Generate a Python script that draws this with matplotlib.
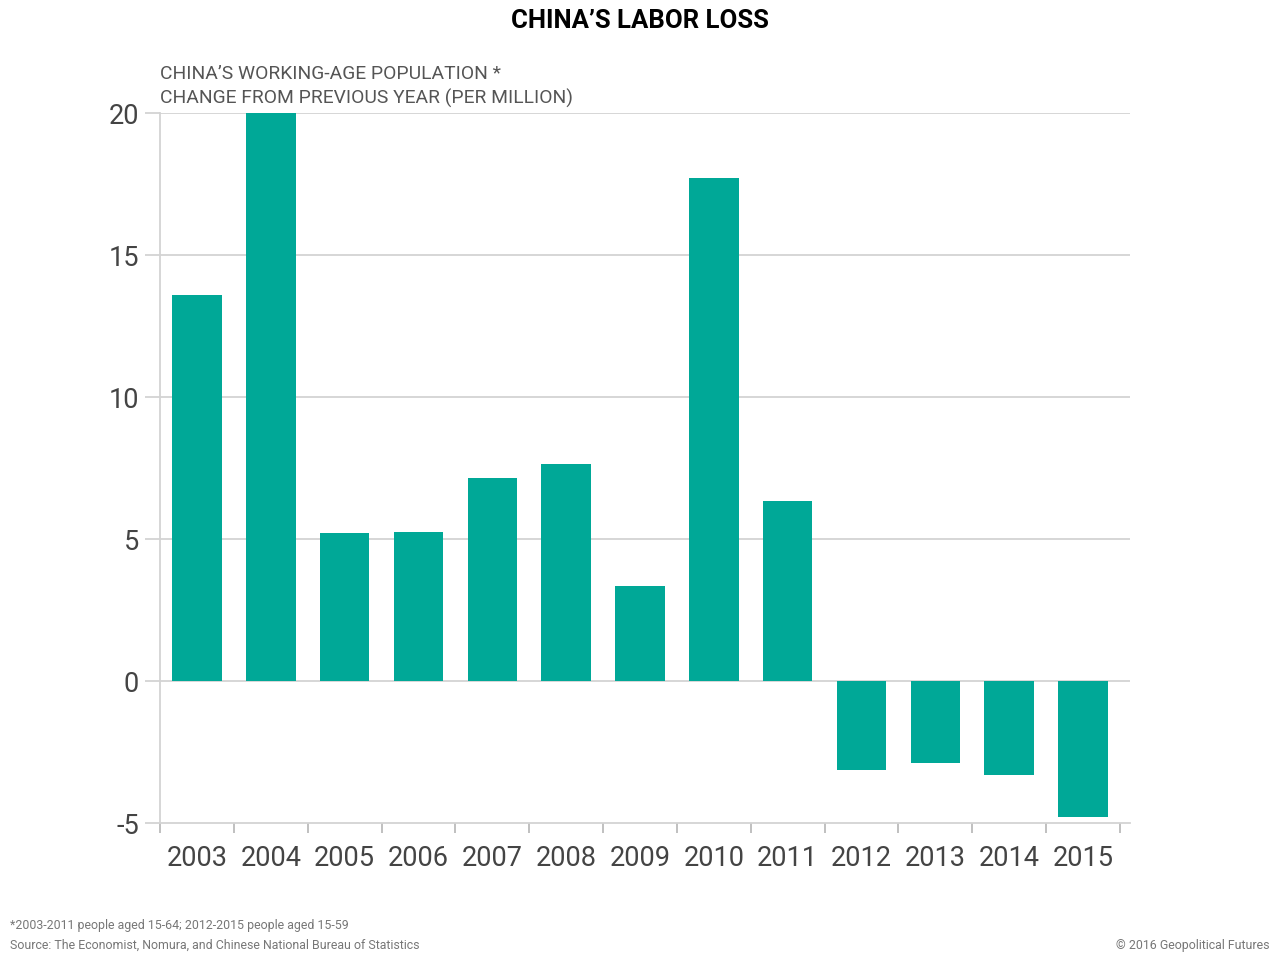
import matplotlib.pyplot as plt

# data
years = ["2003", "2004", "2005", "2006", "2007", "2008", "2009",
         "2010", "2011", "2012", "2013", "2014", "2015"]
change_mn = [13.6, 20.0, 5.2, 5.25, 7.15, 7.65, 3.35,
             17.7, 6.35, -3.15, -2.9, -3.3, -4.8]
y_ticks = [-5, 0, 5, 10, 15, 20]

BAR = "#00a897"
GRID = "#d3d3d3"
TXT = "#444444"

plt.rcParams["font.family"] = ["Roboto", "DejaVu Sans"]

fig = plt.figure(figsize=(12.8, 9.6), dpi=100)
ax = fig.add_axes([160 / 1280, 1 - 823 / 960, (1130 - 160) / 1280, (823 - 113) / 960])

x = list(range(len(years)))
ax.bar(x, change_mn, width=0.67, color=BAR, zorder=3)

# categories span -0.5..12.5, a little extra on the right for the grid
ax.set_xlim(-0.5, 12.5 + 10 / 73.85)
ax.set_ylim(-5, 20)

for y in y_ticks[1:]:
    ax.axhline(y, color=GRID, lw=1.3, zorder=1)

for s in ["top", "right"]:
    ax.spines[s].set_visible(False)
ax.spines["left"].set_color(GRID)
ax.spines["left"].set_linewidth(1.3)
ax.spines["bottom"].set_color(GRID)
ax.spines["bottom"].set_linewidth(1.3)

ax.set_yticks(y_ticks)
ax.set_yticklabels([str(v) for v in y_ticks])
ax.tick_params(axis="y", length=11, width=1.3, color=GRID, labelsize=19.5,
               labelcolor=TXT, pad=4)

# x ticks as boundaries between categories, labels at the centres
ax.set_xticks([i - 0.5 for i in range(len(years) + 1)])
ax.set_xticklabels([])
ax.set_xticks(x, minor=True)
ax.set_xticklabels(years, minor=True)
ax.tick_params(axis="x", which="major", length=7, width=1.3, color="#bbbbbb")
ax.tick_params(axis="x", which="minor", length=0, labelsize=19.5,
               labelcolor=TXT, pad=16)

fig.text(0.5, 1 - 21 / 960, "CHINA\u2019S LABOR LOSS", ha="center", va="center",
         fontsize=18.5, fontweight="bold", color="black")
fig.text(160 / 1280, 1 - 74 / 960, "CHINA\u2019S WORKING-AGE POPULATION *",
         ha="left", va="center", fontsize=13.9, color="#555555")
fig.text(160 / 1280, 1 - 98 / 960, "CHANGE FROM PREVIOUS YEAR (PER MILLION)",
         ha="left", va="center", fontsize=13.9, color="#555555")

fig.text(10 / 1280, 1 - 926 / 960,
         "*2003-2011 people aged 15-64; 2012-2015 people aged 15-59",
         ha="left", va="center", fontsize=8.9, color="#777777")
fig.text(10 / 1280, 1 - 945 / 960,
         "Source: The Economist, Nomura, and Chinese National Bureau of Statistics",
         ha="left", va="center", fontsize=8.9, color="#777777")
fig.text(1270 / 1280, 1 - 945 / 960, "\u00a9 2016 Geopolitical Futures",
         ha="right", va="center", fontsize=8.9, color="#777777")

fig.savefig("out.png", dpi=100)
